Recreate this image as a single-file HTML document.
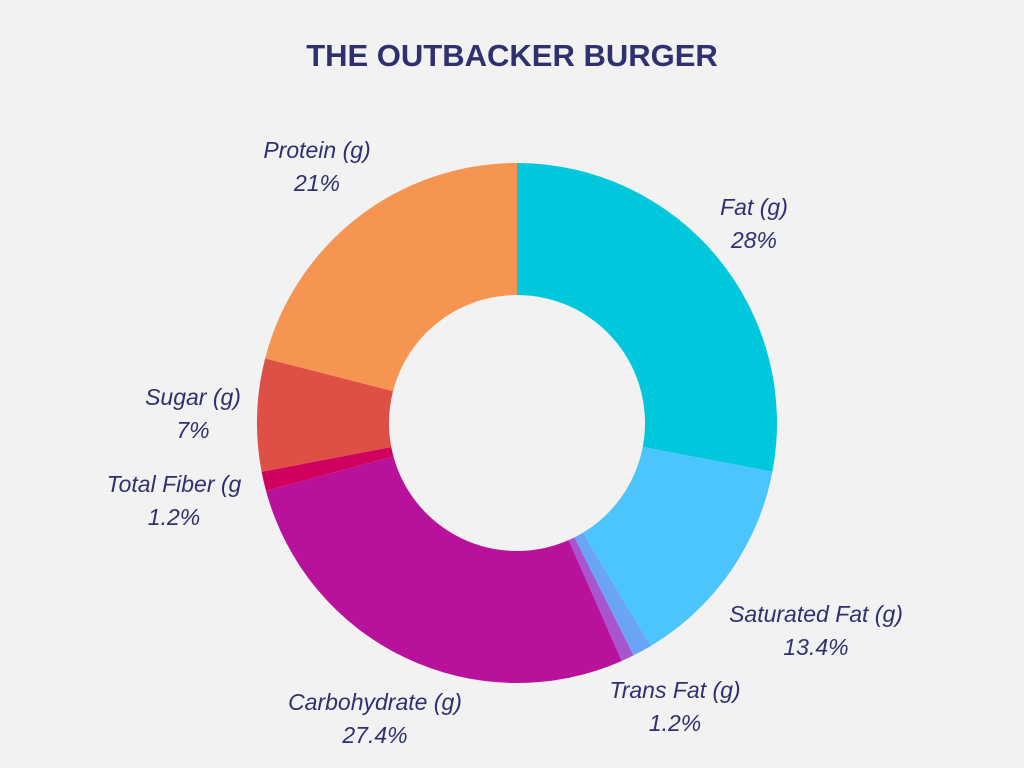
<!DOCTYPE html>
<html><head><meta charset="utf-8"><style>
body{margin:0;background:#f2f2f2;}
svg{display:block}
text{font-family:"Liberation Sans",sans-serif;fill:#2e3070}
</style></head><body>
<svg id="chart" width="1024" height="768">
<rect width="1024" height="768" fill="#f2f2f2"/>
<text x="512" y="66" text-anchor="middle" font-size="31" font-weight="bold">THE OUTBACKER BURGER</text>
<g id="slices"></g><g id="labels"></g>
</svg>
<script>
const categories=["Fat (g)","Saturated Fat (g)","Trans Fat (g)","Other","Carbohydrate (g)","Total Fiber (g","Sugar (g)","Protein (g)"];
const values=[28,13.4,1.2,0.8,27.4,1.2,7,21];
const valueLabels=["28%","13.4%","1.2%","","27.4%","1.2%","7%","21%"];
const colors=["#00c8dc","#4cc4fc","#6aa5f5","#a855d0","#b8129c","#d0005e","#de5045","#f69452"];
const labelPos=[[754,215],[816,622],[675,698],null,[375,710],[174,492],[193,405],[317,158]];
const cx=517,cy=423,R=260,r=128;
const total=values.reduce((a,b)=>a+b,0);
const ns="http://www.w3.org/2000/svg";
const gS=document.getElementById('slices'),gL=document.getElementById('labels');
function pt(a,rad){return [cx+rad*Math.sin(a),cy-rad*Math.cos(a)];}
let acc=0;
values.forEach((v,i)=>{
 const a0=acc/total*2*Math.PI;acc+=v;const a1=acc/total*2*Math.PI;
 const lg=(a1-a0)>Math.PI?1:0;
 const p0=pt(a0,R),p1=pt(a1,R),q1=pt(a1,r),q0=pt(a0,r);
 const p=document.createElementNS(ns,'path');
 p.setAttribute('d',`M${p0}A${R},${R} 0 ${lg} 1 ${p1}L${q1}A${r},${r} 0 ${lg} 0 ${q0}Z`);
 p.setAttribute('fill',colors[i]);
 
 
 gS.appendChild(p);
 if(labelPos[i]){
  const t=document.createElementNS(ns,'text');
  t.setAttribute('x',labelPos[i][0]);t.setAttribute('y',labelPos[i][1]);
  t.setAttribute('text-anchor','middle');t.setAttribute('font-size','23');t.setAttribute('font-style','italic');
  
  
  const s1=document.createElementNS(ns,'tspan');s1.setAttribute('x',labelPos[i][0]);s1.textContent=categories[i];
  const s2=document.createElementNS(ns,'tspan');s2.setAttribute('x',labelPos[i][0]);s2.setAttribute('dy','33');s2.textContent=valueLabels[i];
  t.appendChild(s1);t.appendChild(s2);gL.appendChild(t);
 }
});
</script>
</body></html>
